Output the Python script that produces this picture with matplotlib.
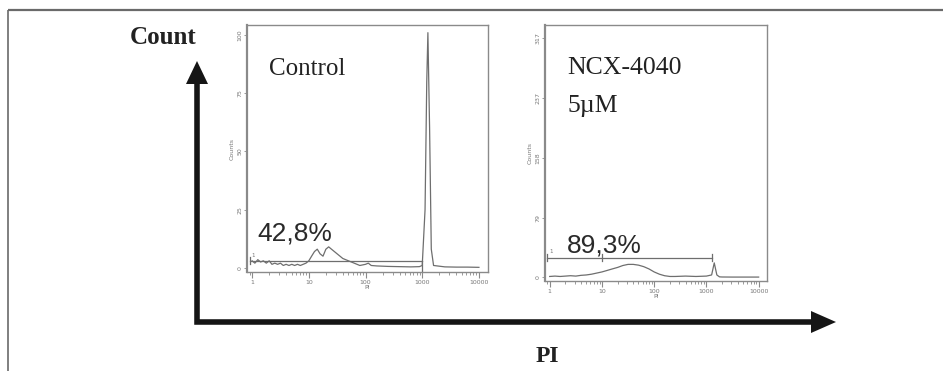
import matplotlib
matplotlib.use("Agg")
import matplotlib.pyplot as plt
import numpy as np
from matplotlib.patches import Polygon

W, H = 943, 371

# ---------------- data ----------------
# Control histogram (PI value, count)
ctrl_pi = [1.0, 1.12, 1.26, 1.41, 1.58, 1.78, 2.0, 2.24, 2.51, 2.82, 3.16, 3.55, 3.98,
           4.47, 5.01, 5.62, 6.31, 7.08, 7.94, 8.91, 10.0, 11.2, 12.6, 14.1, 15.8, 17.8,
           20.0, 22.4, 25.1, 31.6, 39.8, 50.1, 63.1, 79.4, 100, 112, 126, 158, 251, 398,
           631, 891, 1000, 1122, 1202, 1259, 1349, 1445, 1585, 2512, 3981, 6310, 10000]
ctrl_cnt = [3.0, 2.0, 3.5, 2.5, 3.0, 2.0, 3.0, 1.5, 2.0, 1.5, 2.0, 1.0, 1.5,
            1.0, 1.5, 1.0, 1.5, 1.0, 1.5, 2.0, 3.0, 5.0, 7.0, 8.0, 6.0, 5.0,
            8.0, 9.0, 8.0, 6.0, 4.0, 3.0, 2.0, 1.0, 1.5, 2.0, 1.0, 0.8, 0.6, 0.5,
            0.4, 0.5, 1.0, 25.0, 80.0, 101.0, 60.0, 8.0, 1.0, 0.4, 0.3, 0.3, 0.2]

# NCX-4040 5uM histogram (PI value, count)
ncx_pi = [1.0, 1.26, 1.58, 2.0, 2.51, 3.16, 3.98, 5.01, 6.31, 7.94, 10.0, 12.6, 15.8,
          20.0, 25.1, 31.6, 39.8, 50.1, 63.1, 79.4, 100, 126, 158, 200, 251, 398, 631,
          1000, 1259, 1413, 1585, 1778, 1995, 3162, 5012, 10000]
ncx_cnt = [1.0, 1.5, 1.0, 1.5, 2.0, 1.5, 2.5, 3.0, 4.0, 5.5, 7.0, 9.0, 11.0,
           13.0, 15.5, 17.0, 17.0, 16.0, 14.0, 11.0, 7.0, 4.0, 2.0, 1.0, 1.0, 1.5, 1.0,
           1.5, 3.0, 19.0, 3.0, 0.5, 0.3, 0.2, 0.2, 0.2]

x_ticks = [1, 10, 100, 1000, 10000]
x_ticklabels = ["1", "10", "100", "1000", "10000"]
ctrl_yticks = [0, 25, 50, 75, 100]
ncx_yticks = [0, 79, 158, 237, 317]

ctrl_gate = (0.93, 1000, 3.0)      # start, end, level
ncx_gate = (0.9, 1300, 26.0, 10)   # start, end, level, middle tick

ctrl_label, ctrl_pct = "Control", "42,8%"
ncx_label1, ncx_label2, ncx_pct = "NCX-4040", "5\u00b5M", "89,3%"

# ---------------- figure ----------------
fig = plt.figure(figsize=(W / 100, H / 100), dpi=100)


def fx(x):
    return x / W


def fy(y):
    return 1 - y / H


def rect(l, t, r, b):
    return [fx(l), fy(b), (r - l) / W, (b - t) / H]


# overlay for frame, arrows and free text (pixel coordinates)
ov = fig.add_axes([0, 0, 1, 1])
ov.set_xlim(0, W)
ov.set_ylim(H, 0)
ov.axis("off")

# outer frame (top and left)
ov.plot([8, W], [10, 10], color="#6a6a6a", lw=1.6, solid_capstyle="butt")
ov.plot([8, 8], [10, H], color="#6a6a6a", lw=1.2, solid_capstyle="butt")

# big L arrows
ov.plot([197, 197, 812], [80, 322, 322], color="#151515", lw=4.0,
        solid_joinstyle="miter", solid_capstyle="butt")
ov.add_patch(Polygon([[186, 84], [208, 84], [197, 61]], closed=True,
                     color="#151515", lw=0))
ov.add_patch(Polygon([[811, 311], [811, 333], [836, 322]], closed=True,
                     color="#151515", lw=0))

ov.text(163, 37, "Count", family="Liberation Serif", fontweight="bold",
        fontsize=18, ha="center", va="center", color="#222222")
ov.text(547, 356, "PI", family="Liberation Serif", fontweight="bold",
        fontsize=17, ha="center", va="center", color="#222222")

spine_col = "#8a8a8a"
line_col = "#6e6e6e"
tick_col = "#8a8a8a"


def style_axes(ax, yticks, ylim):
    ax.set_xscale("log")
    ax.set_xlim(10 ** -0.09, 10 ** 4.16)
    ax.set_ylim(*ylim)
    ax.set_xticks(x_ticks)
    ax.set_xticklabels(x_ticklabels)
    ax.set_yticks(yticks)
    ax.set_yticklabels([str(v) for v in yticks], rotation=90, va="center")
    ax.xaxis.set_minor_locator(matplotlib.ticker.LogLocator(base=10, subs=np.arange(2, 10)))
    ax.xaxis.set_minor_formatter(matplotlib.ticker.NullFormatter())
    ax.tick_params(axis="x", which="major", direction="out", length=4, width=0.8,
                   color=tick_col, labelsize=4.5, labelcolor="#777777", pad=1.5)
    ax.tick_params(axis="x", which="minor", direction="out", length=2.5, width=0.6,
                   color=tick_col)
    ax.tick_params(axis="y", direction="out", length=2, width=0.6, color=tick_col,
                   labelsize=4.5, labelcolor="#777777", pad=1.5)
    for s in ax.spines.values():
        s.set_color(spine_col)
        s.set_linewidth(1.0)
    ax.spines["left"].set_linewidth(1.6)
    ax.set_xlabel("PI", fontsize=4.5, color="#777777", labelpad=0)
    ax.set_ylabel("Counts", fontsize=4.5, color="#777777", labelpad=2)
    ax.patch.set_alpha(0)


# Panel 1: Control
ax1 = fig.add_axes(rect(247, 25, 488, 272))
ax1.plot(ctrl_pi, ctrl_cnt, color=line_col, lw=0.9)
style_axes(ax1, ctrl_yticks, (-1.8, 104.3))
g0, g1, gl = ctrl_gate
ax1.plot([g0, g1], [gl, gl], color=line_col, lw=0.9)
ax1.plot([g1, g1], [gl, -1.5], color=line_col, lw=0.9)
ax1.plot([g0, g0], [gl + 1.5, gl - 1.5], color=line_col, lw=0.9)
ax1.text(g0 * 1.05, gl + 1.2, "1", fontsize=4, color="#777777", ha="left", va="bottom")
ax1.text(0.09, 0.82, ctrl_label, transform=ax1.transAxes, family="Liberation Serif",
         fontsize=18, ha="left", va="center", color="#222222")
ax1.text(0.045, 0.155, ctrl_pct, transform=ax1.transAxes, family="Liberation Sans",
         fontsize=19, ha="left", va="center", color="#2a2a2a")

# Panel 2: NCX-4040
ax2 = fig.add_axes(rect(545, 25, 767, 281))
ax2.plot(ncx_pi, ncx_cnt, color=line_col, lw=0.9)
style_axes(ax2, ncx_yticks, (-5.0, 334))
h0, h1, hl, hm = ncx_gate
ax2.plot([h0, h1], [hl, hl], color=line_col, lw=0.9)
for xv in (h0, hm, h1):
    ax2.plot([xv, xv], [hl - 5, hl + 5], color=line_col, lw=0.9)
ax2.text(h0 * 1.08, hl + 5, "1", fontsize=4, color="#777777", ha="left", va="bottom")
ax2.text(0.10, 0.832, ncx_label1, transform=ax2.transAxes, family="Liberation Serif",
         fontsize=18.5, ha="left", va="center", color="#222222")
ax2.text(0.10, 0.684, ncx_label2, transform=ax2.transAxes, family="Liberation Serif",
         fontsize=18.5, ha="left", va="center", color="#222222")
ax2.text(0.10, 0.14, ncx_pct, transform=ax2.transAxes, family="Liberation Sans",
         fontsize=19, ha="left", va="center", color="#2a2a2a")

fig.savefig("out.png", dpi=100, facecolor="white")
